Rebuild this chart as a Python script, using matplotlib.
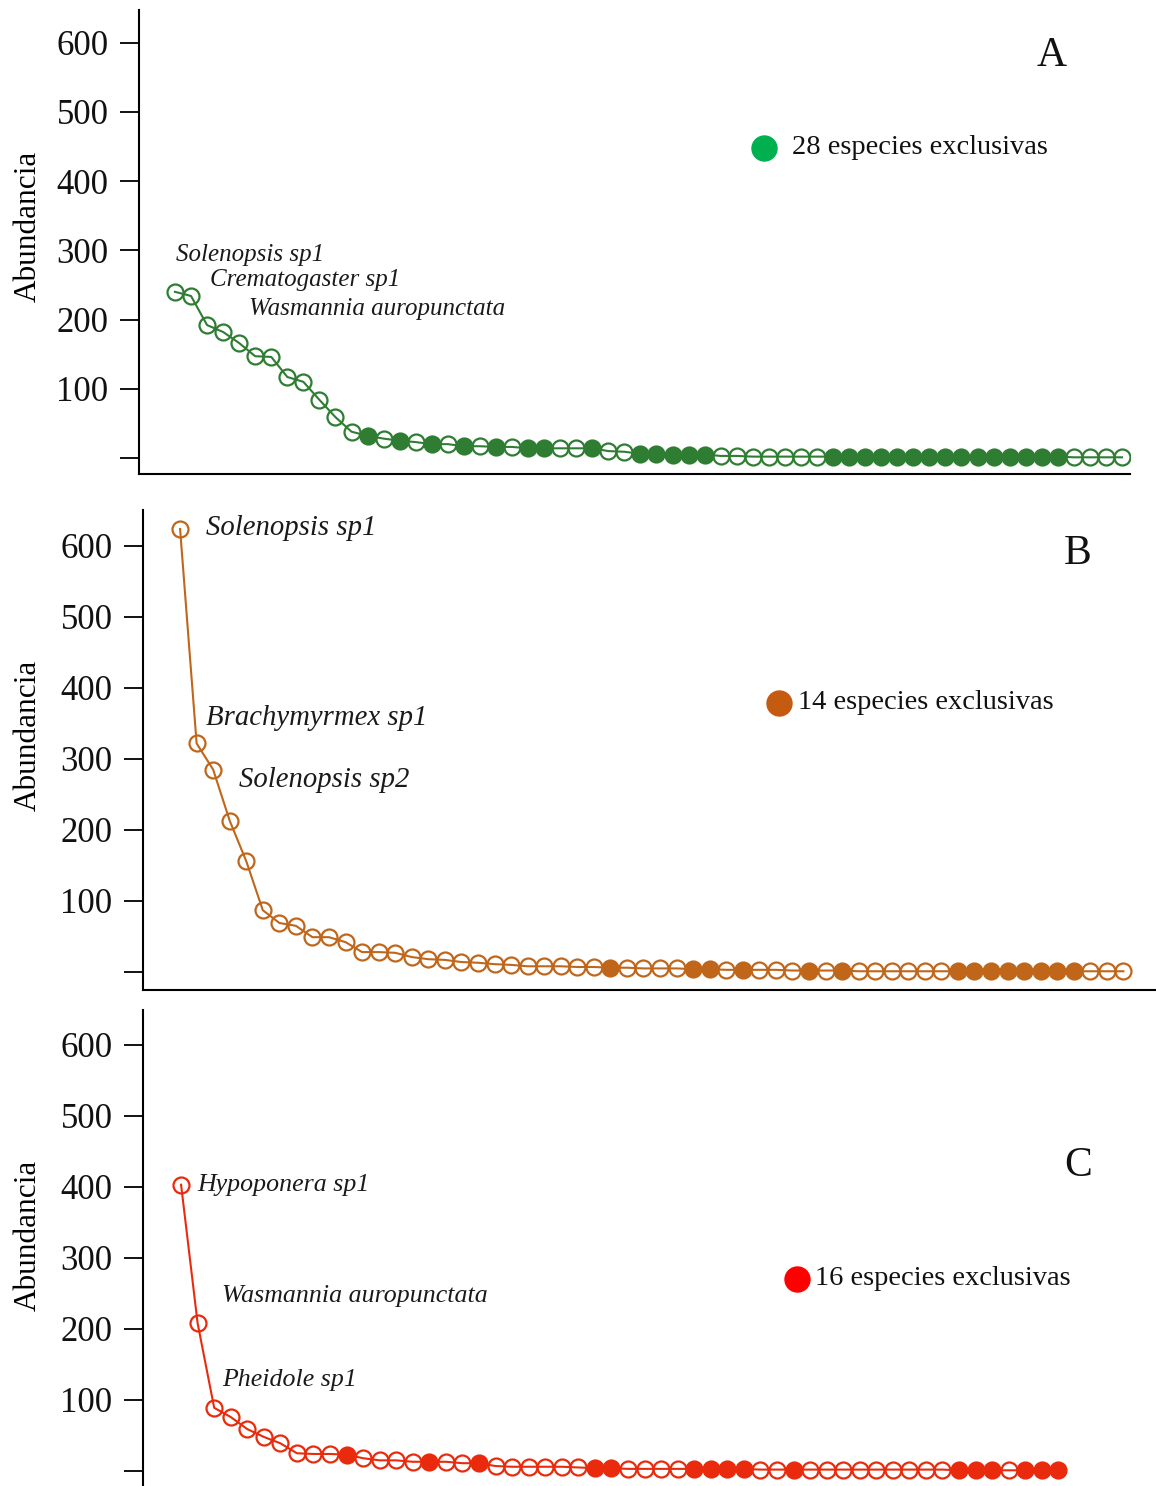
import matplotlib
matplotlib.use("Agg")
import matplotlib.pyplot as plt
import numpy as np

plt.rcParams["font.family"] = ["Liberation Serif", "DejaVu Serif"]

# rank-abundance values per site
abund_a = [240, 234, 192, 182, 166, 147, 146, 117, 110, 84, 59, 38, 32, 28, 25, 23, 20, 20, 17, 17,
           16, 16, 14, 14, 14, 14, 14, 10, 9, 6, 6, 5, 5, 5, 3, 3, 2, 2, 2, 2,
           2, 2, 2, 2, 2, 2, 2, 2, 2, 2, 2, 2, 2, 2, 2, 2, 1, 1, 1, 1]
excl_a = [12, 14, 16, 18, 20, 22, 23, 26, 29, 30, 31, 32, 33] + list(range(41, 56))

abund_b = [624, 322, 285, 213, 156, 87, 69, 65, 49, 49, 42, 28, 28, 27, 21, 18, 17, 14, 13, 11,
           10, 8, 8, 8, 7, 7, 6, 6, 5, 5, 5, 4, 4, 3, 3, 3, 3, 2, 2, 2,
           2, 1, 1, 1, 1, 1, 1, 1, 1, 1, 1, 1, 1, 1, 1, 1, 1, 1]
excl_b = [26, 31, 32, 34, 38, 40] + list(range(47, 55))

abund_c = [403, 208, 89, 76, 59, 48, 39, 25, 24, 24, 23, 18, 15, 15, 13, 13, 13, 11, 11, 7,
           6, 6, 6, 6, 5, 4, 4, 3, 3, 3, 3, 3, 3, 3, 3, 2, 2, 2, 2, 2,
           2, 2, 2, 2, 2, 2, 2, 1, 1, 1, 1, 1, 1, 1]
excl_c = [10, 15, 18, 25, 26, 31, 32, 33, 34, 37, 47, 48, 49, 51, 52, 53]

labels_a = [("Solenopsis sp1", 0.06, 293), ("Crematogaster sp1", 2.2, 257), ("Wasmannia auropunctata", 4.6, 215)]
labels_b = [("Solenopsis sp1", 1.57, 625), ("Brachymyrmex sp1", 1.57, 358), ("Solenopsis sp2", 3.56, 270)]
labels_c = [("Hypoponera sp1", 0.97, 403), ("Wasmannia auropunctata", 2.48, 246), ("Pheidole sp1", 2.48, 128)]

yticks = [0, 100, 200, 300, 400, 500, 600]
ytick_labels = ["", "100", "200", "300", "400", "500", "600"]

W, H = 1156, 1486
fig = plt.figure(figsize=(W / 100, H / 100), dpi=100)


def panel(rect, values, excl, labels, color, dot_color, letter, n_excl, lab_size,
          xlim, ylim, legend_xy, text_gap, letter_xy, ylabel_xy, show_bottom=True):
    ax = fig.add_axes(rect)
    x = np.arange(len(values))
    y = np.array(values)
    mask = np.isin(x, excl)
    ax.plot(x, y, color=color, lw=1.5, zorder=2)
    ax.plot(x[~mask], y[~mask], "o", ms=11.5, mfc="none", mec=color, mew=1.6, zorder=3)
    ax.plot(x[mask], y[mask], "o", ms=11.5, mfc=color, mec=color, mew=1.6, zorder=3)

    for name, lx, ly in labels:
        ax.text(lx, ly, name, style="italic", fontsize=lab_size, ha="left", va="center", color="#1a1a1a")

    ax.plot(legend_xy[0], legend_xy[1], "o", ms=18, color=dot_color, transform=ax.transAxes, clip_on=False)
    ax.text(legend_xy[0] + text_gap, legend_xy[1], f"{n_excl} especies exclusivas", fontsize=20.5,
            ha="left", va="center", transform=ax.transAxes, color="#111111")
    ax.text(letter_xy[0], letter_xy[1], letter, fontsize=30, ha="center", va="center",
            transform=ax.transAxes, color="#111111")

    ax.set_xlim(*xlim)
    ax.set_ylim(*ylim)
    ax.set_yticks(yticks)
    ax.set_yticklabels(ytick_labels, fontsize=25)
    ax.set_xticks([])
    ax.tick_params(axis="y", direction="out", length=14, width=1.4, pad=8, colors="#111111")
    ax.set_ylabel("Abundancia", fontsize=22.5)
    ax.yaxis.set_label_coords(*ylabel_xy)
    ax.spines["top"].set_visible(False)
    ax.spines["right"].set_visible(False)
    ax.spines["left"].set_linewidth(1.5)
    ax.spines["bottom"].set_linewidth(1.5)
    ax.spines["bottom"].set_visible(show_bottom)
    ax.patch.set_alpha(0)
    return ax


panel([139 / W, 1 - 474 / H, 991 / W, 464 / H], abund_a, excl_a, labels_a,
      "#2e7d32", "#00b050", "A", 28, 18, (-2.24, 59.5), (-23.1, 647),
      (0.631, 0.7026), 0.028, (0.921, 0.902), (-0.097, 0.534))
panel([143 / W, 1 - 990 / H, 1013 / W, 480 / H], abund_b, excl_b, labels_b,
      "#c0661a", "#c55a11", "B", 14, 20.7, (-2.24, 58.97), (-25.4, 650.7),
      (0.628, 0.598), 0.019, (0.923, 0.908), (-0.099, 0.531))
panel([143 / W, 0.0, 1013 / W, 476 / H], abund_c, excl_c, labels_c,
      "#ea2a0c", "#ff0000", "C", 16, 18.6, (-2.3, 58.9), (-21.1, 649),
      (0.6456, 0.435), 0.018, (0.923, 0.672), (-0.099, 0.527), show_bottom=False)

fig.savefig("out.png", dpi=100)
